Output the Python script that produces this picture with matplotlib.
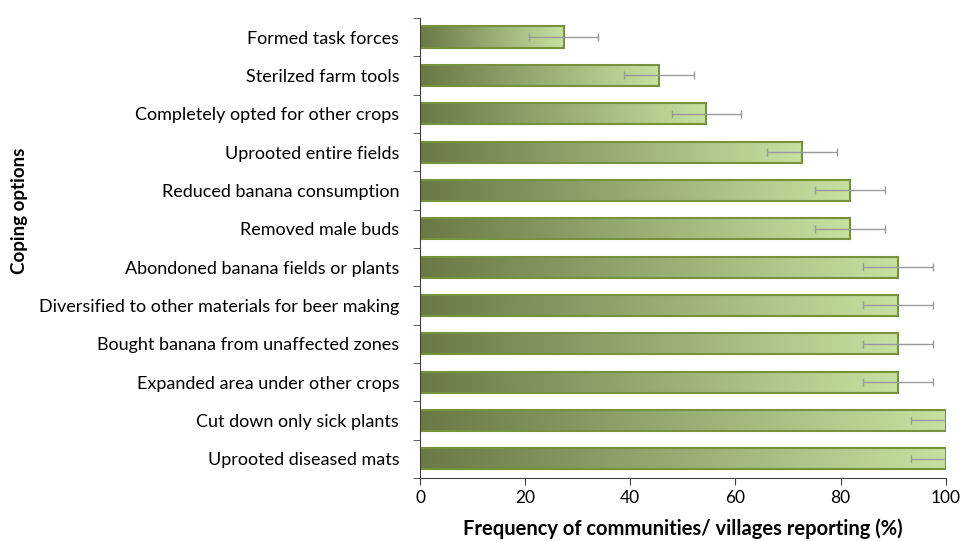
import numpy as np
import matplotlib
matplotlib.use("Agg")
import matplotlib.pyplot as plt
from matplotlib.colors import LinearSegmentedColormap

# data, top to bottom
options = ["Formed task forces", "Sterilzed farm tools", "Completely opted for other crops",
           "Uprooted entire fields", "Reduced banana consumption", "Removed male buds",
           "Abondoned banana fields or plants", "Diversified to other materials for beer making",
           "Bought banana from unaffected zones", "Expanded area under other crops",
           "Cut down only sick plants", "Uprooted diseased mats"]
freq = [27.3, 45.5, 54.5, 72.7, 81.8, 81.8, 90.9, 90.9, 90.9, 90.9, 100.0, 100.0]
err = [6.6, 6.6, 6.6, 6.6, 6.6, 6.6, 6.6, 6.6, 6.6, 6.6, 6.6, 6.6]

plt.rcParams['font.family'] = ['Lato', 'DejaVu Sans']

fig = plt.figure(figsize=(9.62, 5.41), dpi=100)
ax = fig.add_axes([0.4366, 0.1165, 0.5464, 0.8505])

cmap = LinearSegmentedColormap.from_list("olive", ["#6a7946", "#c6e1a1"])
grad = np.linspace(0, 1, 256).reshape(1, -1)

n = len(options)
ypos = np.arange(n)[::-1]
h = 0.55
for y, v in zip(ypos, freq):
    ax.imshow(grad, cmap=cmap, aspect="auto", extent=[0, v, y - h / 2, y + h / 2], zorder=1)
ax.barh(ypos, freq, height=h, facecolor="none", edgecolor="#76923c", linewidth=1.5, zorder=2)
ax.errorbar(freq, ypos, xerr=err, fmt="none", ecolor="#9a9a9a", elinewidth=1, capsize=3, zorder=3)

ax.set_xlim(0, 100)
ax.set_ylim(-0.5, n - 0.5)
ax.set_xticks([0, 20, 40, 60, 80, 100])
ax.set_yticks(ypos)
ax.set_yticklabels(options)
ax.set_yticks(np.arange(-0.5, n, 1.0), minor=True)
ax.tick_params(axis="y", which="major", length=0, pad=15, labelsize=13)
ax.tick_params(axis="y", which="minor", length=5, color="#404040")
ax.tick_params(axis="x", length=5, labelsize=12.5, color="#404040")

for s in ["top", "right"]:
    ax.spines[s].set_visible(False)
for s in ["left", "bottom"]:
    ax.spines[s].set_color("#404040")

ax.set_xlabel("Frequency of communities/ villages reporting (%)", fontsize=14.5, fontweight="bold", labelpad=9)
fig.text(0.02, 0.61, "Coping options", rotation=90, fontsize=13.5, fontweight="bold", va="center", ha="center")

fig.savefig("out.png", dpi=100)
